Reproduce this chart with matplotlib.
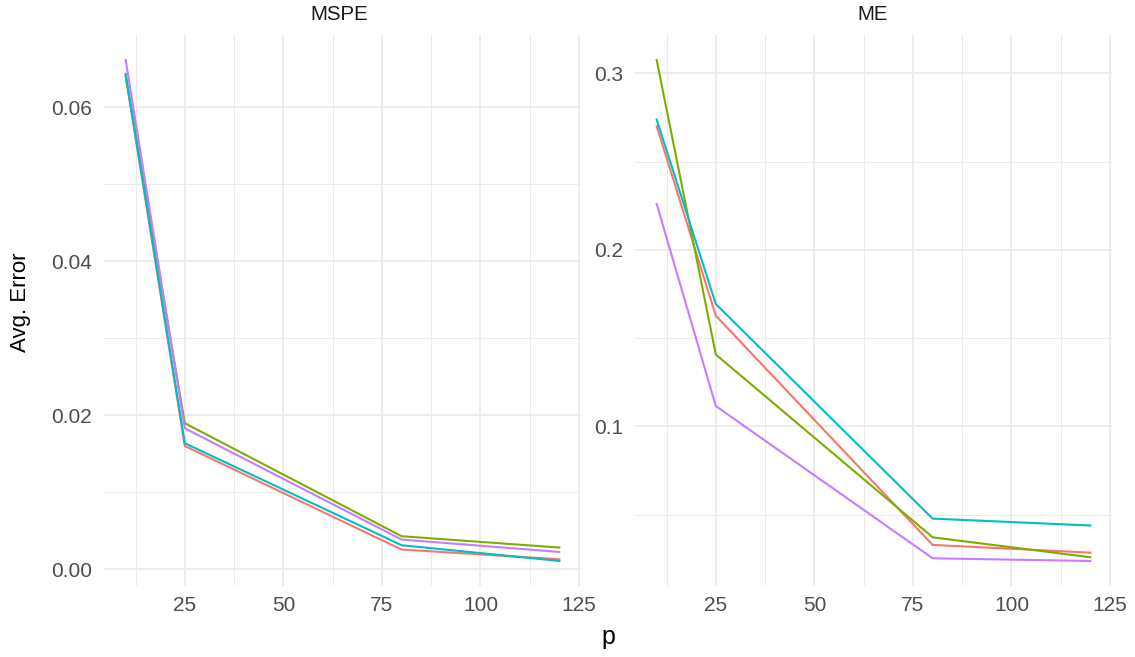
import matplotlib
matplotlib.use("Agg")
import matplotlib.pyplot as plt
import numpy as np

plt.rcParams['font.family'] = ['Liberation Sans', 'DejaVu Sans']

p = [10, 25, 80, 120]
series_names = ["red", "green", "cyan", "purple"]
colors = ["#F8766D", "#7CAE00", "#00BFC4", "#C77CFF"]

mspe = {
    "red":    [0.0640, 0.0160, 0.00256, 0.00130],
    "green":  [0.0641, 0.01896, 0.00429, 0.00282],
    "cyan":   [0.0643, 0.01636, 0.00312, 0.00108],
    "purple": [0.0661, 0.0183, 0.00386, 0.00225],
}
me = {
    "red":    [0.2701, 0.1627, 0.0328, 0.0284],
    "green":  [0.3076, 0.1407, 0.0371, 0.0258],
    "cyan":   [0.2739, 0.1693, 0.0477, 0.0438],
    "purple": [0.2260, 0.1115, 0.0252, 0.0237],
}

W, H = 1135, 657
fig = plt.figure(figsize=(W/100, H/100), dpi=100)

def px_axes(x0, x1, y0, y1):
    return fig.add_axes([x0/W, 1 - y1/H, (x1-x0)/W, (y1-y0)/H])

ax1 = px_axes(104, 581, 35, 586)
ax2 = px_axes(635, 1112, 35, 586)

grid_major = "#EBEBEB"
tick_col = "#4D4D4D"

def style(ax, yticks, yminor, fmt):
    ax.set_xlim(4.5, 125.5)
    ax.set_xticks([25, 50, 75, 100, 125])
    ax.set_xticks([12.5, 37.5, 62.5, 87.5, 112.5], minor=True)
    ax.set_yticks(yticks)
    ax.set_yticks(yminor, minor=True)
    ax.set_yticklabels([fmt(v) for v in yticks])
    for s in ax.spines.values():
        s.set_visible(False)
    ax.grid(which="major", color=grid_major, lw=1.3)
    ax.grid(which="minor", color=grid_major, lw=0.7)
    ax.set_axisbelow(True)
    ax.tick_params(which="both", length=0, labelsize=15, labelcolor=tick_col)
    ax.tick_params(axis="y", pad=8.5)
    ax.tick_params(axis="x", pad=7)

for name, c in zip(series_names, colors):
    ax1.plot(p, mspe[name], color=c, lw=1.5, solid_joinstyle="miter")
    ax2.plot(p, me[name], color=c, lw=1.5, solid_joinstyle="miter")

def lims(d):
    vals = np.concatenate([np.array(v) for v in d.values()])
    lo, hi = vals.min(), vals.max()
    r = hi - lo
    return lo - 0.05*r, hi + 0.05*r

ax1.set_ylim(*lims(mspe))
ax2.set_ylim(*lims(me))

style(ax1, [0.00, 0.02, 0.04, 0.06], [0.01, 0.03, 0.05], lambda v: f"{v:.2f}")
style(ax2, [0.1, 0.2, 0.3], [0.05, 0.15, 0.25], lambda v: f"{v:.1f}")

fig.text(339/W, 1 - 14.5/H, "MSPE", ha="center", va="center", fontsize=14.7, color="#1A1A1A")
fig.text(873/W, 1 - 14.5/H, "ME", ha="center", va="center", fontsize=14.7, color="#1A1A1A")

fig.text(608.5/W, 1 - 637/H, "p", ha="center", va="center", fontsize=18, color="black")
fig.text(21/W, 1 - 302/H, "Avg. Error", ha="center", va="center", rotation=90, fontsize=16, color="black")

fig.savefig("out.png", dpi=100, facecolor="white")
